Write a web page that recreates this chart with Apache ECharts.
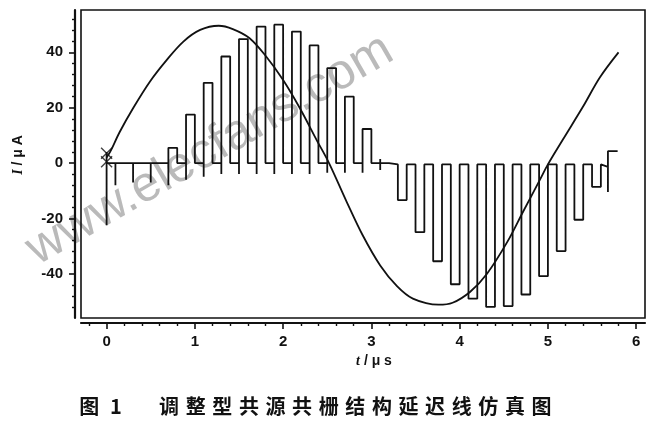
<!DOCTYPE html>
<html><head><meta charset="utf-8">
<script src="https://cdn.jsdelivr.net/npm/echarts@6/dist/echarts.min.js"></script>
<style>html,body{margin:0;padding:0;background:#fff}#c{width:659px;height:424px}</style>
</head><body><div id="c"></div>
<script>
// ---- data ----
const sineT = [0, 0.04, 0.15, 0.3, 0.49, 0.68, 0.87, 1.06, 1.27, 1.43, 1.62, 1.81, 2.0, 2.19, 2.38, 2.52, 2.72, 2.9, 3.1, 3.29, 3.47, 3.76, 3.92, 4.12, 4.31, 4.54, 4.72, 4.91, 5.0, 5.17, 5.4, 5.59, 5.8];
const sineV = [2, 4, 11.3, 19.8, 29.4, 37.2, 43.9, 48.1, 49.6, 48.4, 45.1, 38.4, 30, 19.8, 8.3, 0, -14, -26, -37, -44.5, -49, -51.2, -50.5, -46.5, -40, -28.5, -17.5, -6, -0.5, 8.5, 20.5, 31, 40];

const leadT = [0, 0, 0];
const leadV = [4, -22.5, 0];
const preSpikeT = [0.1, 0.3, 0.5];
const preSpikeV = [-8, -7, -7];

const posRise = [0.7, 0.9, 1.1, 1.3, 1.5, 1.7, 1.9, 2.1, 2.3, 2.5, 2.7, 2.9];
const posFall = [0.8, 1.0, 1.2, 1.4, 1.6, 1.8, 2.0, 2.2, 2.4, 2.6, 2.8, 3.0];
const posHeight = [5.5, 17.5, 29, 38.5, 44.8, 49.3, 50, 47.5, 42.5, 34.3, 24, 12.3];
const posSpike = [-8, -6, -5, -4, -4, -4, -4, -4, -4, -3.5, -3.5, -3.5];

const midT = [3.1, 3.1, 3.1, 3.1, 3.2, 3.2];
const midV = [0, 1.5, -2.5, 0, 0, -0.5];

const negBase = -0.5;
const negFall = [3.3, 3.5, 3.7, 3.9, 4.1, 4.3, 4.5, 4.7, 4.9, 5.1, 5.3, 5.5];
const negRise = [3.4, 3.6, 3.8, 4.0, 4.2, 4.4, 4.6, 4.8, 5.0, 5.2, 5.4, 5.6];
const negDepth = [-13.4, -25, -35.5, -43.8, -49, -52, -51.7, -47.5, -40.9, -31.8, -20.5, -8.6];

const tailT = [5.68, 5.68, 5.68, 5.79];
const tailV = [-1.4, -10.5, 4.3, 4.3];

const markerT = [0, 0];
const markerV = [3.5, 0.5];

const xMajorTicks = [0, 1, 2, 3, 4, 5, 6];
const xMinorTicks = [-0.2, 0.2, 0.4, 0.6, 0.8, 1.2, 1.4, 1.6, 1.8, 2.2, 2.4, 2.6, 2.8, 3.2, 3.4, 3.6, 3.8, 4.2, 4.4, 4.6, 4.8, 5.2, 5.4, 5.6, 5.8];
const yMajorTicks = [-40, -20, 0, 20, 40];
const yMinorTicks = [-52, -48, -44, -36, -32, -28, -24, -16, -12, -8, -4, 4, 8, 12, 16, 24, 28, 32, 36, 44, 48, 52];

const caption = '图1　调整型共源共栅结构延迟线仿真图';
const yName = 'I / μ A';
const xName = 't / μ s';
const watermark = 'www.elecfans.com';

// ---- build series data ----
const sineData = sineT.map((t, i) => [t, sineV[i]]);
const stepData = [];
leadT.forEach((t, i) => stepData.push([t, leadV[i]]));
preSpikeT.forEach((t, i) => { stepData.push([t, 0], [t, preSpikeV[i]], [t, 0]); });
posRise.forEach((r, i) => {
  stepData.push([r, 0], [r, posSpike[i]], [r, posHeight[i]], [posFall[i], posHeight[i]], [posFall[i], 0]);
});
midT.forEach((t, i) => stepData.push([t, midV[i]]));
negFall.forEach((f, i) => {
  stepData.push([f, negBase], [f, negDepth[i]], [negRise[i], negDepth[i]], [negRise[i], negBase]);
});
tailT.forEach((t, i) => stepData.push([t, tailV[i]]));
const markerData = markerT.map((t, i) => [t, markerV[i]]);

const labelFont = { color: '#111', fontSize: 15, fontWeight: 'bold', fontFamily: 'Liberation Sans' };
const capRich = { c: { width: 26.6, align: 'center', fontSize: 20, fontWeight: 'bold', fontFamily: 'Noto Sans CJK SC', color: '#111' } };
const capText = Array.from(caption).map(ch => '{c|' + ch + '}').join('');
const nameRich = { i: { fontStyle: 'italic', fontSize: 14, fontWeight: 'bold', fontFamily: 'Liberation Serif', color: '#111' } };
const nameFont = { color: '#111', fontSize: 14, fontWeight: 'bold', fontFamily: 'Liberation Sans' };

const chart = echarts.init(document.getElementById('c'), null, { renderer: 'canvas' });
chart.setOption({
  animation: false,
  backgroundColor: '#fff',
  title: {
    text: capText, left: 76, top: 396, padding: 0,
    textStyle: { rich: capRich }
  },
  graphic: [{
    type: 'text', x: 210, y: 150, rotation: Math.PI / 6, silent: true, z: -100,
    style: { text: watermark, font: '50px "Liberation Sans"', fill: 'rgba(130,130,130,0.55)', align: 'center', verticalAlign: 'middle' }
  }],
  grid: { left: 81, right: 14, top: 10, bottom: 106, show: true, borderColor: '#111', borderWidth: 1.6, backgroundColor: 'transparent' },
  xAxis: [{
    type: 'value', min: -0.29, max: 6.1, offset: 5,
    axisLine: { show: true, onZero: false, lineStyle: { color: '#111', width: 2.2 } },
    axisTick: { show: true, customValues: xMajorTicks, length: 6, lineStyle: { color: '#111', width: 1.6 } },
    axisLabel: { customValues: xMajorTicks, margin: 11, ...labelFont },
    splitLine: { show: false },
    name: '{i|t} / μ s', nameLocation: 'middle', nameGap: 25,
    nameTextStyle: { ...nameFont, padding: [0, 0, 0, 22], rich: nameRich }
  }, {
    type: 'value', min: -0.29, max: 6.1, offset: 5, position: 'bottom',
    axisLine: { show: false, onZero: false },
    axisTick: { show: true, customValues: xMinorTicks, length: 3, lineStyle: { color: '#111', width: 1.4 } },
    axisLabel: { show: false }, splitLine: { show: false }
  }],
  yAxis: [{
    type: 'value', min: -56, max: 55.3, offset: 6,
    axisLine: { show: true, onZero: false, lineStyle: { color: '#111', width: 2.2 } },
    axisTick: { show: true, customValues: yMajorTicks, length: 6, lineStyle: { color: '#111', width: 1.6 } },
    axisLabel: { customValues: yMajorTicks, margin: 12, ...labelFont },
    splitLine: { show: false },
    name: '{i|I} / μ A', nameLocation: 'middle', nameGap: 50,
    nameTextStyle: { ...nameFont, padding: [0, 0, 0, 18], rich: nameRich }
  }, {
    type: 'value', min: -56, max: 55.3, offset: 6, position: 'left',
    axisLine: { show: false, onZero: false },
    axisTick: { show: true, customValues: yMinorTicks, length: 3, lineStyle: { color: '#111', width: 1.4 } },
    axisLabel: { show: false }, splitLine: { show: false }
  }],
  series: [{
    type: 'line', data: stepData, showSymbol: false, symbol: 'none',
    lineStyle: { color: '#111', width: 1.8 }, z: 3
  }, {
    type: 'line', data: sineData, smooth: 0.35, showSymbol: false, symbol: 'none',
    lineStyle: { color: '#111', width: 1.8 }, z: 4
  }, {
    type: 'scatter', data: markerData, symbol: 'path://M0,0L10,10M10,0L0,10', symbolSize: [11, 11],
    itemStyle: { color: 'none', borderColor: '#111', borderWidth: 1.4 }, z: 5
  }]
});
</script></body></html>
